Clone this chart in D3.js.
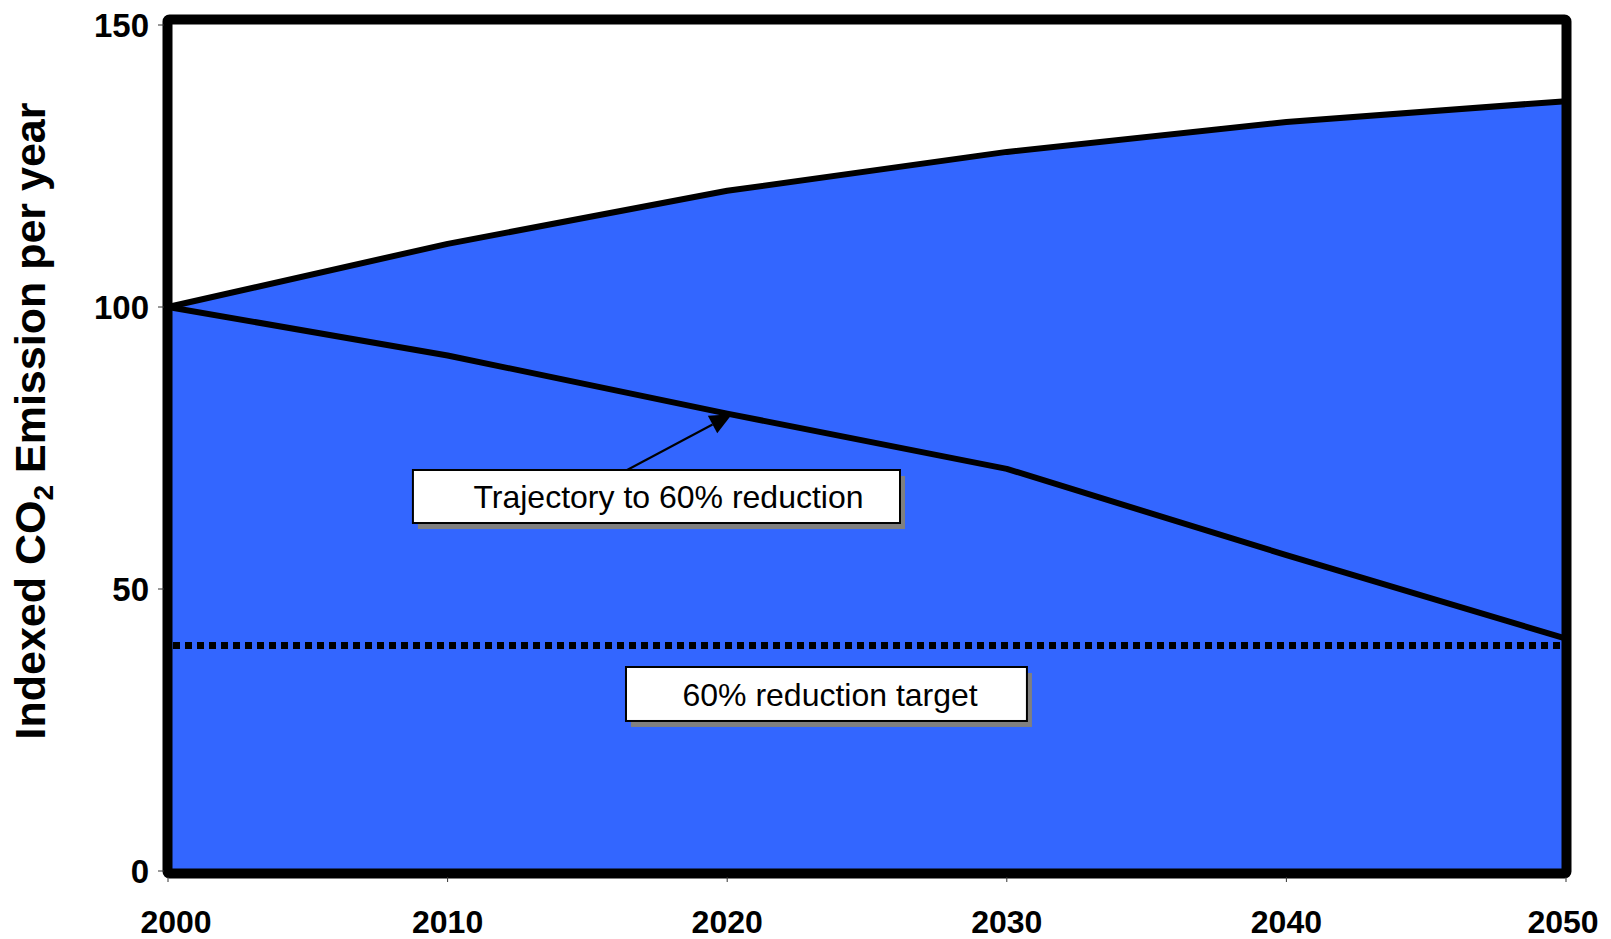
<!DOCTYPE html>
<html>
<head>
<meta charset="utf-8">
<script src="https://cdn.jsdelivr.net/npm/d3@7"></script>
<style>
  html, body { margin: 0; padding: 0; background: #fff; }
  svg { display: block; }
  text { font-family: Arial, "Liberation Sans", Helvetica, sans-serif; }
</style>
</head>
<body>
<svg id="chart" width="1611" height="939"></svg>
<script>
// ---- data ----
const years = [2000, 2010, 2020, 2030, 2040, 2050];
const businessAsUsual = [100, 111.2, 120.6, 127.5, 132.8, 136.5];
const trajectory = [100, 91.4, 81.1, 71.3, 56.0, 41.2];
const target = 40;
const yTicks = [0, 50, 100, 150];
const xTicks = [2000, 2010, 2020, 2030, 2040, 2050];
const labelTrajectory = "Trajectory to 60% reduction";
const labelTarget = "60% reduction target";

// ---- layout ----
const svg = d3.select("#chart");
const x = d3.scaleLinear().domain([2000, 2050]).range([168, 1566]);
const y = d3.scaleLinear().domain([0, 150]).range([871, 25]);
const blue = "#3366FF";

const upper = years.map((yr, i) => ({ x: yr, v: businessAsUsual[i] }));
const lower = years.map((yr, i) => ({ x: yr, v: trajectory[i] }));

// filled area (0 -> upper line)
svg.append("path")
  .datum(upper)
  .attr("fill", blue)
  .attr("d", d3.area().x(d => x(d.x)).y0(y(0)).y1(d => y(d.v)));

// target dotted line
svg.append("line")
  .attr("x1", x(2000) + 5).attr("x2", x(2050) - 4)
  .attr("y1", y(target)).attr("y2", y(target))
  .attr("stroke", "#000").attr("stroke-width", 7)
  .attr("stroke-dasharray", "7,5");

// lines
const line = d3.line().x(d => x(d.x)).y(d => y(d.v));
[upper, lower].forEach(ser => {
  svg.append("path").datum(ser)
    .attr("fill", "none").attr("stroke", "#000")
    .attr("stroke-width", 6).attr("stroke-linejoin", "round")
    .attr("d", line);
});

// frame
svg.append("rect")
  .attr("x", x(2000) - 0.5).attr("y", y(150) - 5.5)
  .attr("width", x(2050) - x(2000) + 1)
  .attr("height", y(0) - y(150) + 8)
  .attr("fill", "none").attr("stroke", "#000").attr("stroke-width", 10)
  .attr("rx", 2);

// y axis ticks and labels
const yAxis = svg.append("g");
yAxis.selectAll("line").data(yTicks).enter().append("line")
  .attr("x1", x(2000) - 10).attr("x2", x(2000) - 4)
  .attr("y1", d => y(d)).attr("y2", d => y(d))
  .attr("stroke", "#333").attr("stroke-width", 1);
yAxis.selectAll("text").data(yTicks).enter().append("text")
  .attr("x", x(2000) - 19).attr("y", d => y(d))
  .attr("dy", "0.36em")
  .attr("text-anchor", "end")
  .attr("font-size", 33).attr("font-weight", "bold")
  .text(d => d);

// x axis ticks and labels
const xAxis = svg.append("g");
xAxis.selectAll("line").data(xTicks).enter().append("line")
  .attr("x1", d => x(d)).attr("x2", d => x(d))
  .attr("y1", y(0) + 6).attr("y2", y(0) + 11)
  .attr("stroke", "#333").attr("stroke-width", 1);
xAxis.selectAll("text").data(xTicks).enter().append("text")
  .attr("x", (d, i) => x(d) + (i === 0 ? 8 : (i === xTicks.length - 1 ? -3 : 0)))
  .attr("y", 933)
  .attr("text-anchor", "middle")
  .attr("font-size", 32).attr("font-weight", "bold")
  .text(d => d);

// y axis title
const title = svg.append("text")
  .attr("transform", "translate(45,421) rotate(-90)")
  .attr("text-anchor", "middle")
  .attr("font-size", 43).attr("font-weight", "bold");
title.append("tspan").text("Indexed CO");
title.append("tspan").attr("font-size", 28).attr("dy", 8).text("2");
title.append("tspan").attr("dy", -8).text(" Emission per year");

// annotation boxes (anchored in data space)
const annotations = [
  { text: labelTrajectory, x0: 2008.76, x1: 2026.18, v0: 71.1, v1: 61.7, tx: 2017.9 },
  { text: labelTarget, x0: 2016.38, x1: 2030.72, v0: 36.17, v1: 26.6, tx: 2023.68 }
];
annotations.forEach(a => {
  const bx = x(a.x0), by = y(a.v0), bw = x(a.x1) - x(a.x0), bh = y(a.v1) - y(a.v0);
  svg.append("rect").attr("x", bx + 5).attr("y", by + 6).attr("width", bw).attr("height", bh)
    .attr("fill", "#808080");
  svg.append("rect").attr("x", bx).attr("y", by).attr("width", bw).attr("height", bh)
    .attr("fill", "#fff").attr("stroke", "#000").attr("stroke-width", 2);
  svg.append("text").attr("x", x(a.tx)).attr("y", by + bh / 2)
    .attr("dy", "0.36em").attr("text-anchor", "middle")
    .attr("font-size", 32).attr("fill", "#000")
    .text(a.text);
});

// arrow from trajectory box to the trajectory line
const arrowBase = [x(2016.42), y(71.1)];
const arrowTip = [x(2020.17), y(81.0)];
const ang = Math.atan2(arrowTip[1] - arrowBase[1], arrowTip[0] - arrowBase[0]);
const headLen = 22, headW = 10;
const hb = [arrowTip[0] - headLen * Math.cos(ang), arrowTip[1] - headLen * Math.sin(ang)];
svg.append("line")
  .attr("x1", arrowBase[0]).attr("y1", arrowBase[1])
  .attr("x2", hb[0]).attr("y2", hb[1])
  .attr("stroke", "#000").attr("stroke-width", 2);
svg.append("path")
  .attr("d", d3.line()([
    arrowTip,
    [hb[0] + headW * Math.sin(ang), hb[1] - headW * Math.cos(ang)],
    [hb[0] - headW * Math.sin(ang), hb[1] + headW * Math.cos(ang)]
  ]) + "Z")
  .attr("fill", "#000");
</script>
</body>
</html>
